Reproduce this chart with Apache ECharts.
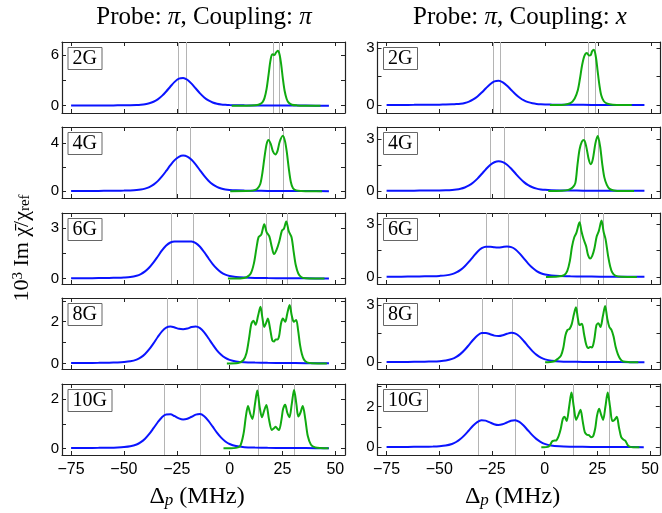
<!DOCTYPE html>
<html><head><meta charset="utf-8">
<script src="https://cdn.jsdelivr.net/npm/echarts@6/dist/echarts.min.js"></script>
<style>html,body{margin:0;padding:0;background:#fff}#c{width:662px;height:513px}</style>
</head><body><div id="c"></div>
<script>
// ---------- data ----------
const xTicks = [-75, -50, -25, 0, 25, 50];
const fieldLabels = ['2G', '4G', '6G', '8G', '10G'];

const blueX = [-75,-68,-62,-57,-53,-50,-47,-44,-42,-40,-38,-36,-34,-32,-30,-28,-26,-24,-22,-20,-18,-16,-14,-12,-10,-8,-6,-4,-2,0,3,7,12,18,26,36,47];

// Probe: pi, Coupling: pi  (left column)
const blueL2 = [0.015,0.020,0.027,0.035,0.044,0.053,0.067,0.092,0.127,0.185,0.289,0.470,0.756,1.165,1.688,2.274,2.822,3.200,3.292,3.075,2.615,2.035,1.467,0.985,0.628,0.388,0.241,0.156,0.111,0.084,0.062,0.047,0.036,0.026,0.018,0.013,0.009];
const blueL4 = [0.015,0.020,0.027,0.035,0.045,0.054,0.071,0.102,0.144,0.219,0.345,0.546,0.839,1.223,1.679,2.158,2.575,2.847,2.951,2.868,2.605,2.203,1.730,1.268,0.872,0.572,0.364,0.230,0.151,0.106,0.072,0.052,0.037,0.027,0.019,0.013,0.009];
const blueL6 = [0.017,0.022,0.030,0.039,0.051,0.068,0.098,0.173,0.270,0.427,0.657,0.956,1.307,1.663,1.953,2.135,2.194,2.189,2.187,2.196,2.189,2.099,1.881,1.562,1.201,0.859,0.580,0.371,0.235,0.152,0.090,0.058,0.040,0.029,0.020,0.014,0.010];
const blueL8 = [0.015,0.020,0.027,0.035,0.047,0.063,0.098,0.182,0.288,0.453,0.681,0.964,1.266,1.537,1.717,1.766,1.726,1.659,1.639,1.674,1.744,1.770,1.693,1.493,1.206,0.905,0.628,0.414,0.262,0.166,0.092,0.054,0.037,0.026,0.018,0.012,0.009];
const blueL10 = [0.012,0.016,0.022,0.029,0.039,0.053,0.084,0.158,0.252,0.394,0.586,0.821,1.063,1.269,1.383,1.386,1.310,1.221,1.175,1.204,1.286,1.372,1.394,1.307,1.121,0.883,0.642,0.437,0.282,0.177,0.093,0.050,0.032,0.022,0.015,0.010,0.007];

// Probe: pi, Coupling: x  (right column)
const blueR2 = [0.006,0.008,0.010,0.014,0.017,0.021,0.026,0.036,0.049,0.072,0.113,0.184,0.295,0.455,0.659,0.888,1.102,1.250,1.286,1.201,1.021,0.795,0.573,0.385,0.245,0.152,0.094,0.061,0.043,0.033,0.024,0.018,0.014,0.010,0.007,0.005,0.003];
const blueR4 = [0.009,0.012,0.016,0.020,0.026,0.031,0.041,0.059,0.084,0.128,0.201,0.318,0.489,0.713,0.979,1.257,1.501,1.659,1.720,1.671,1.518,1.284,1.008,0.739,0.508,0.334,0.212,0.134,0.088,0.062,0.042,0.030,0.022,0.016,0.011,0.008,0.005];
const blueR6 = [0.014,0.018,0.025,0.033,0.043,0.059,0.089,0.162,0.254,0.400,0.606,0.870,1.158,1.433,1.632,1.721,1.721,1.684,1.673,1.702,1.725,1.696,1.562,1.328,1.042,0.760,0.519,0.335,0.212,0.137,0.079,0.049,0.034,0.024,0.016,0.011,0.008];
const blueR8 = [0.013,0.018,0.024,0.032,0.043,0.059,0.094,0.178,0.284,0.443,0.658,0.916,1.182,1.406,1.533,1.540,1.473,1.398,1.374,1.417,1.496,1.544,1.503,1.346,1.103,0.836,0.587,0.389,0.247,0.154,0.085,0.049,0.033,0.023,0.016,0.011,0.008];
const blueR10 = [0.012,0.016,0.021,0.028,0.038,0.053,0.086,0.164,0.261,0.406,0.600,0.829,1.060,1.244,1.335,1.314,1.226,1.138,1.098,1.134,1.220,1.309,1.333,1.250,1.071,0.841,0.611,0.415,0.269,0.169,0.088,0.048,0.030,0.022,0.014,0.010,0.007];

const greenL2x = [1,8,12,14,15.5,16.5,17.5,18.5,19.3,20.2,21.2,22,22.8,23.6,24.4,25.2,26,27,28,29.5,32,36,43];
const greenL2y = [0,0.01,0.05,0.15,0.4,0.9,2.0,3.8,5.3,6.1,6.0,6.3,6.5,6.1,4.9,3.2,1.8,0.8,0.35,0.12,0.04,0.01,0];
const greenL4x = [0.3,8,11,13,14.5,15.5,16.5,17.5,18.4,19.5,20.5,21.6,22.6,23.7,25.2,26.2,27.1,28,29,30,31.5,34,38,43.7];
const greenL4y = [0,0.01,0.05,0.18,0.6,1.5,2.8,3.9,4.25,3.9,3.3,3.05,3.3,4.1,4.6,4.15,3.2,1.9,0.75,0.25,0.07,0.02,0,0];
const greenL6x = [-0.8,5,8,10,11.5,12.7,13.7,15,16.4,17.5,18.8,20,21,22.2,23.5,24.8,25.7,26.8,28,29.3,30.3,31.3,32.5,34,36,40,44.9];
const greenL6y = [0,0.01,0.08,0.3,0.9,1.8,2.45,2.6,3.22,2.75,2.5,1.85,1.45,1.7,2.2,2.85,2.95,3.38,2.8,2.45,1.6,0.8,0.3,0.08,0.02,0,0];
const greenL8x = [-1.3,4,6.5,8,9.2,10.3,11.3,12.3,13.5,14.6,15.5,16.4,17.3,18.1,19.1,20.2,21,21.8,22.6,23.4,24.3,25.2,26.3,27.3,28.4,29.4,30.4,31.5,32.4,33.3,34.2,35.2,36.6,39,46];
const greenL8y = [0,0.02,0.15,0.5,1.2,1.9,2.05,1.85,2.3,2.72,2.2,1.75,1.95,2.15,1.7,1.1,1.05,1.15,1.15,1.3,1.9,2.15,2.0,2.4,2.8,2.3,2.0,2.08,1.6,0.9,0.45,0.18,0.05,0.01,0];
const greenL10x = [-2.9,3,5,6.6,7.7,8.7,9.8,10.8,12,13.1,14.2,15.3,16.4,17.4,18.6,20,21,21.8,22.6,23.4,24.5,25.3,26.3,27.3,28.3,29.4,30.5,31.6,32.5,33.5,34.6,35.8,37,38.5,40.5,43,46.8];
const greenL10y = [0,0.02,0.1,0.6,1.3,1.72,1.4,1.2,1.8,2.36,1.7,1.27,1.55,1.77,1.2,0.75,0.82,0.88,0.8,0.75,1.15,1.6,1.78,1.45,1.27,1.8,2.38,1.8,1.3,1.45,1.72,1.2,0.5,0.15,0.04,0.01,0];

const greenR2x = [2.3,9,12,14,15.5,16.5,17.5,18.6,19.8,20.8,21.5,22.3,23.1,24,24.8,25.7,26.6,27.8,29.5,32,36,41];
const greenR2y = [0,0.02,0.1,0.35,0.8,1.4,2.1,2.6,2.75,2.62,2.63,2.85,2.92,2.55,1.85,1.05,0.5,0.2,0.07,0.02,0,0];
const greenR4x = [1.5,8,11,13,14.3,15.3,16.3,17.4,18.4,19.5,20.6,21.6,22.6,23.8,24.9,26,27,28,29.2,30.5,32.5,36,42.1];
const greenR4y = [0,0.01,0.06,0.2,0.45,1.5,2.4,2.85,2.95,2.55,1.85,1.55,1.85,2.75,3.18,2.6,1.6,0.8,0.35,0.12,0.03,0,0];
const greenR6x = [0.4,6,9,10.5,11.7,12.7,13.8,14.8,16.3,17.2,18.2,19.4,20.3,21.3,22.3,23.3,24.4,25.4,26.7,27.7,28.6,29.8,30.8,31.8,33.2,36,43.4];
const greenR6y = [0,0.02,0.1,0.35,0.9,1.7,2.25,2.5,3.1,2.6,2.15,1.75,1.25,1.05,1.2,1.6,2.3,2.6,3.2,2.55,2.15,1.2,0.6,0.25,0.07,0.01,0];
const greenR8x = [0,4,6.2,7.5,8.6,9.6,10.6,11.6,12.6,13.6,14.6,15.5,16.3,17.4,18.4,19.4,20.4,21.3,22.2,23.2,24.3,25.2,26.2,27.3,28.4,29.4,30.4,31.4,32.4,33.4,34.5,35.7,37,40,44.1];
const greenR8y = [0,0.04,0.2,0.35,0.75,1.4,1.7,1.75,2.0,2.5,2.88,2.3,1.95,2.02,1.5,0.95,0.75,0.8,0.78,1.15,1.95,2.05,1.85,2.4,2.95,2.3,1.85,1.7,1.35,0.8,0.4,0.15,0.04,0.01,0];
const greenR10x = [-1.6,2,3.6,4.6,5.6,6.6,7.6,8.6,9.4,10.4,11.6,12.7,13.8,14.9,16,17,18,19,20,21,22,23,24,24.8,25.8,26.8,27.7,28.8,29.9,31,32.1,33.1,34.2,35.2,36.3,37.3,38.3,39.3,40.3,42,44.9];
const greenR10y = [0,0.05,0.3,0.33,0.35,0.55,0.9,1.4,1.5,1.3,2.0,2.7,2.0,1.35,1.6,1.85,1.3,0.75,0.62,0.6,0.5,0.55,0.95,1.55,1.9,1.6,1.35,2.0,2.7,2.0,1.3,1.35,1.5,1.0,0.5,0.38,0.32,0.12,0.03,0,0];

// gray reference lines (MHz)
const linesL2 = [-24.2,-20.7,20.5,23.6];
const linesL4 = [-25.2,-18.4,18.6,25.2];
const linesL6 = [-27.6,-17.0,17.2,27.4];
const linesL8 = [-29.7,-15.3,15.3,29.2];
const linesL10 = [-31.0,-13.8,13.7,30.7];
const linesR2 = [-24.5,-21.0,20.2,23.6];
const linesR4 = [-25.9,-19.1,18.4,25.2];
const linesR6 = [-27.8,-17.4,16.7,27.3];
const linesR8 = [-29.7,-15.7,15.0,28.8];
const linesR10 = [-31.3,-13.9,13.4,30.4];

// y tick values and labelled ticks per panel
const yTicksL = [[0,3,6],[0,2,4],[0,1.5,3],[0,1,2,3],[0,1,2]];
const yLabelsL = [[0,6],[0,4],[0,3],[0,2],[0,2]];
const yTicksR = [[0,1.5,3],[0,1.5,3],[0,1.5,3],[0,1.5,3],[0,1,2,3]];
const yLabelsR = [[0,3],[0,3],[0,3],[0,3],[0,2]];

// ---------- layout ----------
const xMin = -79.3, xMax = 54.6;
const yRangeL = [[-0.86,7.54],[-0.56,5.32],[-0.32,3.88],[-0.27,3.14],[-0.27,2.62]];
const yRangeR = [[-0.42,3.33],[-0.41,3.7],[-0.40,3.63],[-0.35,3.37],[-0.38,3.12]];
const colLeft = [62, 377.5];
const gridW = 283, gridH = 71;
const rowTop = [42, 127, 213, 298, 384];

const zip = (xs, ys) => xs.map((x, i) => [x, ys[i]]);
const panels = [
  {col:0,row:0,blue:blueL2,gx:greenL2x,gy:greenL2y,lines:linesL2},
  {col:0,row:1,blue:blueL4,gx:greenL4x,gy:greenL4y,lines:linesL4},
  {col:0,row:2,blue:blueL6,gx:greenL6x,gy:greenL6y,lines:linesL6},
  {col:0,row:3,blue:blueL8,gx:greenL8x,gy:greenL8y,lines:linesL8},
  {col:0,row:4,blue:blueL10,gx:greenL10x,gy:greenL10y,lines:linesL10},
  {col:1,row:0,blue:blueR2,gx:greenR2x,gy:greenR2y,lines:linesR2},
  {col:1,row:1,blue:blueR4,gx:greenR4x,gy:greenR4y,lines:linesR4},
  {col:1,row:2,blue:blueR6,gx:greenR6x,gy:greenR6y,lines:linesR6},
  {col:1,row:3,blue:blueR8,gx:greenR8x,gy:greenR8y,lines:linesR8},
  {col:1,row:4,blue:blueR10,gx:greenR10x,gy:greenR10y,lines:linesR10}
];

const fmt = v => (v < 0 ? '\u2212' + Math.abs(v) : String(v));
const axisColor = '#222';
const grid = [], xAxis = [], yAxis = [], series = [], title = [];

panels.forEach((p, i) => {
  const left = colLeft[p.col], top = rowTop[p.row];
  const yr = p.col === 0 ? yRangeL[p.row] : yRangeR[p.row];
  const yt = p.col === 0 ? yTicksL[p.row] : yTicksR[p.row];
  const yl = p.col === 0 ? yLabelsL[p.row] : yLabelsR[p.row];
  grid.push({left: left, top: top, width: gridW, height: gridH});
  const common = {
    type: 'value', gridIndex: i, splitLine: {show: false},
    axisLine: {show: true, onZero: false, lineStyle: {color: axisColor, width: 1.2}}
  };
  xAxis.push(Object.assign({}, common, {
    position: 'bottom', min: xMin, max: xMax,
    axisTick: {show: true, inside: true, length: 4, customValues: xTicks, lineStyle: {color: axisColor}},
    axisLabel: {show: p.row === 4, customValues: xTicks, formatter: fmt, margin: 7,
      fontFamily: 'Liberation Sans', fontSize: 16, color: '#000'}
  }));
  xAxis.push(Object.assign({}, common, {
    position: 'top', min: xMin, max: xMax,
    axisTick: {show: true, inside: true, length: 4, customValues: xTicks, lineStyle: {color: axisColor}},
    axisLabel: {show: false}
  }));
  yAxis.push(Object.assign({}, common, {
    position: 'left', min: yr[0], max: yr[1],
    axisTick: {show: true, inside: true, length: 4, customValues: yt, lineStyle: {color: axisColor}},
    axisLabel: {show: true, customValues: yl, formatter: fmt, margin: 3,
      fontFamily: 'Liberation Sans', fontSize: 15, color: '#000'}
  }));
  yAxis.push(Object.assign({}, common, {
    position: 'right', min: yr[0], max: yr[1],
    axisTick: {show: true, inside: true, length: 4, customValues: yt, lineStyle: {color: axisColor}},
    axisLabel: {show: false}
  }));
  const xi = 2 * i, yi = 2 * i;
  series.push({
    type: 'line', xAxisIndex: xi, yAxisIndex: yi, data: [], z: 1, silent: true,
    markLine: {silent: true, symbol: ['none', 'none'], label: {show: false}, z: 1,
      lineStyle: {type: 'solid', color: '#b4b4b4', width: 1},
      data: p.lines.map(v => ({xAxis: v}))}
  });
  series.push({
    type: 'line', xAxisIndex: xi, yAxisIndex: yi, z: 2, showSymbol: false, smooth: 0.3,
    lineStyle: {color: '#0a14ff', width: 2}, itemStyle: {color: '#0a14ff'},
    data: zip(blueX, p.blue)
  });
  series.push({
    type: 'line', xAxisIndex: xi, yAxisIndex: yi, z: 3, showSymbol: false, smooth: 0.3,
    lineStyle: {color: '#10aa10', width: 2}, itemStyle: {color: '#10aa10'},
    data: zip(p.gx, p.gy)
  });
  title.push({
    text: fieldLabels[p.row], left: left + 5.5, top: top + 5,
    padding: [2, 5, 1, 5], borderColor: '#666', borderWidth: 1, backgroundColor: '#fff',
    textStyle: {fontFamily: 'Liberation Serif', fontSize: 20, fontWeight: 'normal', color: '#000'}
  });
});

const serif = 'Liberation Serif';
const graphic = [
  {type: 'text', x: 204, y: 17, style: {
    text: '{r|Probe: }{i|\u03c0}{r|, Coupling: }{i|\u03c0}', align: 'center', verticalAlign: 'middle',
    rich: {r: {fontFamily: serif, fontSize: 25, fill: '#000'}, i: {fontFamily: serif, fontStyle: 'italic', fontSize: 25, fill: '#000'}}}},
  {type: 'text', x: 520, y: 17, style: {
    text: '{r|Probe: }{i|\u03c0}{r|, Coupling: }{i|x}', align: 'center', verticalAlign: 'middle',
    rich: {r: {fontFamily: serif, fontSize: 25, fill: '#000'}, i: {fontFamily: serif, fontStyle: 'italic', fontSize: 25, fill: '#000'}}}},
  {type: 'text', x: 197, y: 497, style: {
    text: '{r|\u0394}{s|p}{r| (MHz)}', align: 'center', verticalAlign: 'middle',
    rich: {r: {fontFamily: serif, fontSize: 24, fill: '#000'}, s: {fontFamily: serif, fontStyle: 'italic', fontSize: 17, fill: '#000', verticalAlign: 'bottom'}}}},
  {type: 'text', x: 512.5, y: 497, style: {
    text: '{r|\u0394}{s|p}{r| (MHz)}', align: 'center', verticalAlign: 'middle',
    rich: {r: {fontFamily: serif, fontSize: 24, fill: '#000'}, s: {fontFamily: serif, fontStyle: 'italic', fontSize: 17, fill: '#000', verticalAlign: 'bottom'}}}},
  {type: 'text', x: 22, y: 248, rotation: Math.PI / 2, style: {
    text: '{r|10}{u|3}{r| Im \u03c7\u0304/\u03c7}{s|ref}', align: 'center', verticalAlign: 'middle',
    rich: {r: {fontFamily: serif, fontSize: 22, fill: '#000'}, u: {fontFamily: serif, fontSize: 15, fill: '#000', verticalAlign: 'top'},
      s: {fontFamily: serif, fontSize: 15, fill: '#000', verticalAlign: 'bottom'}}}}
];

const chart = echarts.init(document.getElementById('c'), null, {renderer: 'canvas'});
chart.setOption({animation: false, backgroundColor: '#fff', grid, xAxis, yAxis, series, title, graphic});
</script></body></html>
